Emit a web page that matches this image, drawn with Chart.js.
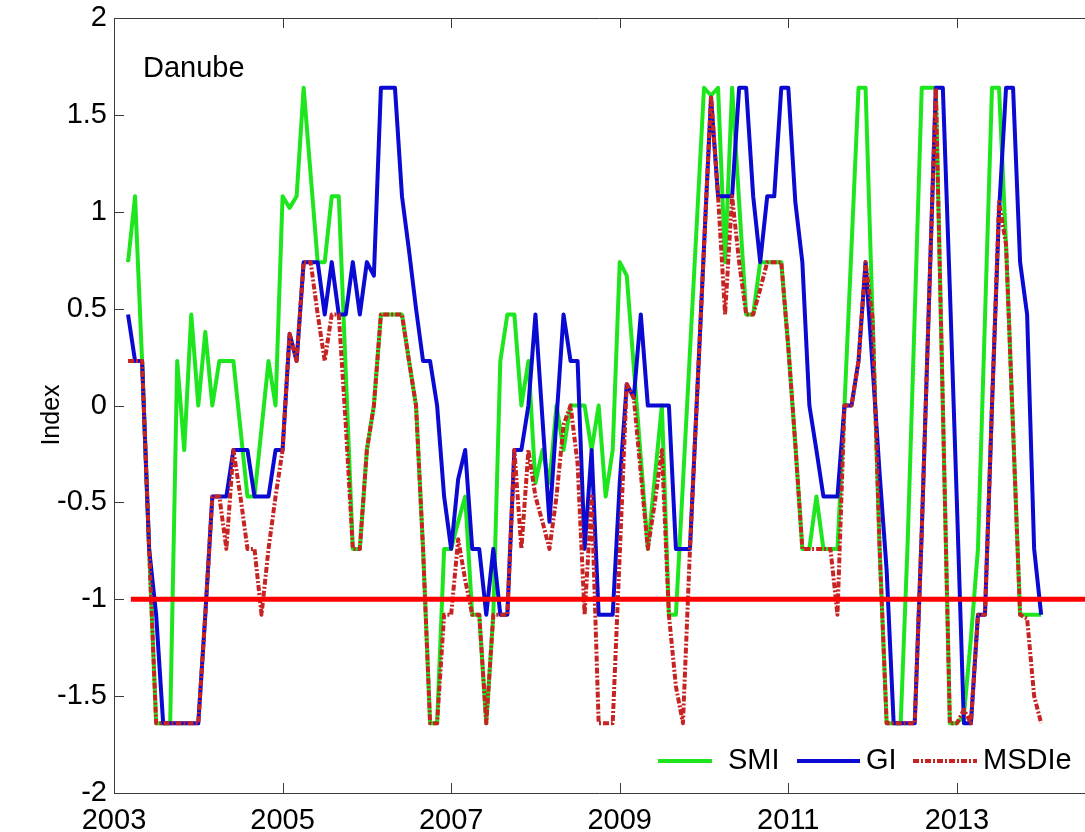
<!DOCTYPE html>
<html>
<head>
<meta charset="utf-8">
<script src="https://cdn.jsdelivr.net/npm/chart.js@4.4.0/dist/chart.umd.min.js"></script>
<style>
  html, body { margin: 0; padding: 0; background: #ffffff; }
  #danube_chart { display: block; }
</style>
</head>
<body>
<canvas id="danube_chart" width="1085" height="832" style="width:1085px;height:832px"></canvas>
<script>
// Monthly drought indices for the Danube, first value = March 2003
const START_YEAR  = 2003;
const FIRST_MONTH = 2;          // months after January 2003

const SMI = [
  0.74, 1.08, 0.23, -0.74, -1.64, -1.64, -1.64, 0.23, -0.23, 0.47,               // 2003
  0, 0.38, 0, 0.23, 0.23, 0.23, -0.12, -0.47, -0.47, -0.12, 0.23, 0,              // 2004
  1.08, 1.02, 1.08, 1.64, 1.19, 0.74, 0.74, 1.08, 1.08, 0.17, -0.74, -0.74,       // 2005
  -0.23, 0, 0.47, 0.47, 0.47, 0.47, 0.23, 0, -0.74, -1.64, -1.64, -0.74,          // 2006
  -0.74, -0.6, -0.47, -1.08, -1.08, -1.64, -1.08, 0.23, 0.47, 0.47, 0, 0.23,      // 2007
  -0.4, -0.23, -0.4, 0, -0.23, 0, 0, 0, -0.23, 0, -0.47, -0.23,                   // 2008
  0.74, 0.67, 0.2, -0.27, -0.74, -0.37, 0, -1.08, -1.08, -0.4, 0.28, 0.96,        // 2009
  1.64, 1.6, 1.64, 0.74, 1.64, 1.05, 0.47, 0.47, 0.74, 0.74, 0.74, 0.74,          // 2010
  0.3, -0.2, -0.74, -0.74, -0.47, -0.74, -0.74, -0.74, 0, 0.82, 1.64, 1.64,       // 2011
  0.45, -0.74, -1.64, -1.64, -1.64, -0.7, 0.47, 1.64, 1.64, 1.64, 0, -1.64,       // 2012
  -1.64, -1.6, -1.2, -0.74, 0.45, 1.64, 1.64, 0.83, -0.12, -1.08, -1.08, -1.08,   // 2013
  -1.08                                                                            // 2014
];

const GI = [
  0.47, 0.23, 0.23, -0.74, -1.08, -1.64, -1.64, -1.64, -1.64, -1.64,
  -1.64, -1.08, -0.47, -0.47, -0.47, -0.23, -0.23, -0.23, -0.47, -0.47, -0.47, -0.23,
  -0.23, 0.37, 0.23, 0.74, 0.74, 0.74, 0.47, 0.74, 0.47, 0.47, 0.74, 0.47,
  0.74, 0.67, 1.64, 1.64, 1.64, 1.08, 0.8, 0.5, 0.23, 0.23, 0, -0.47,
  -0.74, -0.38, -0.23, -0.74, -0.74, -1.08, -0.74, -1.08, -1.08, -0.23, -0.23, 0,
  0.47, -0.07, -0.6, -0.07, 0.47, 0.23, 0.23, -0.74, -0.23, -1.08, -1.08, -1.08,
  -0.4, 0.11, 0.04, 0.47, 0, 0, 0, 0, -0.74, -0.74, -0.74, 0.04,
  0.82, 1.59, 1.08, 1.08, 1.08, 1.64, 1.64, 1.08, 0.74, 1.08, 1.08, 1.64,
  1.64, 1.05, 0.74, 0, -0.23, -0.47, -0.47, -0.47, 0, 0, 0.23, 0.74,
  0.2, -0.35, -0.85, -1.64, -1.64, -1.64, -1.64, -0.65, 0.5, 1.64, 1.64, 0.6,
  -0.5, -1.64, -1.64, -1.08, -1.08, 0, 1.0, 1.64, 1.64, 0.74, 0.47, -0.74,
  -1.08
];

const MSDIE = [
  0.23, 0.23, 0.23, -0.74, -1.64, -1.64, -1.64, -1.64, -1.64, -1.64,
  -1.64, -1.08, -0.47, -0.47, -0.74, -0.23, -0.47, -0.74, -0.74, -1.08, -0.74, -0.47,
  -0.23, 0.37, 0.23, 0.74, 0.74, 0.47, 0.23, 0.47, 0.47, -0.1, -0.74, -0.74,
  -0.23, 0, 0.47, 0.47, 0.47, 0.47, 0.23, 0, -0.74, -1.64, -1.64, -1.08,
  -1.08, -0.69, -0.9, -1.08, -1.08, -1.64, -1.08, -1.08, -1.08, -0.23, -0.74, -0.23,
  -0.47, -0.6, -0.74, -0.47, -0.1, 0, -0.3, -1.08, -0.47, -1.64, -1.64, -1.64,
  -0.77, 0.11, 0.04, -0.35, -0.74, -0.5, -0.23, -1.08, -1.45, -1.64, -0.74, 0.04,
  0.82, 1.6, 1.08, 0.47, 1.08, 0.74, 0.47, 0.47, 0.6, 0.74, 0.74, 0.74,
  0.3, -0.2, -0.74, -0.74, -0.74, -0.74, -0.74, -1.08, 0, 0, 0.23, 0.74,
  0.45, -0.74, -1.64, -1.64, -1.64, -1.64, -1.64, -0.65, 0.5, 1.64, 0, -1.64,
  -1.64, -1.57, -1.64, -1.08, -1.08, 0, 1.05, 0.83, -0.12, -1.08, -1.1, -1.5,
  -1.64
];

const THRESHOLD       = -1;
const THRESHOLD_START = 2003.2;
const X_MIN = 2003;
const X_MAX = 2014.52;
const X_TICKS = [2003, 2005, 2007, 2009, 2011, 2013];
const Y_TICKS = [-2, -1.5, -1, -0.5, 0, 0.5, 1, 1.5, 2];
const Y_TICK_LABELS = ["-2", "-1.5", "-1", "-0.5", "0", "0.5", "1", "1.5", "2"];

const FONT_FAMILY = "'Liberation Sans', Arial, Helvetica, sans-serif";
const AXIS_COLOR  = "#3a3a3a";
const SMI_COLOR   = "#1ee61e";
const GI_COLOR    = "#0a0ad2";
const MSDI_COLOR  = "#c82323";
const LINE_RED    = "#ff0000";
const MSDI_DASH   = [6, 2, 2, 2];

function toPoints(vals) {
  return vals.map((v, i) => ({ x: START_YEAR + (FIRST_MONTH + i) / 12, y: v }));
}

// box on left/top/bottom with inward ticks, panel label, axis title and legend
const framePlugin = {
  id: "frame",
  afterDatasetsDraw(chart) {
    const { ctx, chartArea: a, scales: { x, y } } = chart;
    ctx.save();
    ctx.strokeStyle = AXIS_COLOR;
    ctx.lineWidth = 1;
    ctx.beginPath();
    ctx.moveTo(a.right, a.top + 0.5);
    ctx.lineTo(a.left + 0.5, a.top + 0.5);
    ctx.lineTo(a.left + 0.5, a.bottom + 0.5);
    ctx.lineTo(a.right, a.bottom + 0.5);
    X_TICKS.forEach((t) => {
      const px = Math.round(x.getPixelForValue(t)) + 0.5;
      ctx.moveTo(px, a.top);
      ctx.lineTo(px, a.top + 10);
      ctx.moveTo(px, a.bottom);
      ctx.lineTo(px, a.bottom - 10);
    });
    Y_TICKS.forEach((t) => {
      const py = Math.round(y.getPixelForValue(t)) + 0.5;
      ctx.moveTo(a.left, py);
      ctx.lineTo(a.left + 10, py);
    });
    ctx.stroke();

    ctx.fillStyle = "#000";
    ctx.font = `29px ${FONT_FAMILY}`;
    ctx.textAlign = "left";
    ctx.textBaseline = "middle";
    ctx.fillText("Danube", 143, 69);

    // y axis title
    ctx.save();
    ctx.translate(52, 415);
    ctx.rotate(-Math.PI / 2);
    ctx.textAlign = "center";
    ctx.font = `25px ${FONT_FAMILY}`;
    ctx.fillText("Index", 0, 0);
    ctx.restore();

    // legend
    const ly = 761;
    const items = [
      { label: "SMI",   color: SMI_COLOR,  dash: [],        x0: 658, x1: 712, tx: 728 },
      { label: "GI",    color: GI_COLOR,   dash: [],        x0: 797, x1: 860, tx: 866 },
      { label: "MSDIe", color: MSDI_COLOR, dash: MSDI_DASH, x0: 913, x1: 977, tx: 983 },
    ];
    items.forEach((it) => {
      ctx.strokeStyle = it.color;
      ctx.lineWidth = 4;
      ctx.setLineDash(it.dash);
      ctx.beginPath();
      ctx.moveTo(it.x0, ly);
      ctx.lineTo(it.x1, ly);
      ctx.stroke();
      ctx.setLineDash([]);
      ctx.fillText(it.label, it.tx, ly);
    });
    ctx.restore();
  },
};

const lineDefaults = { pointRadius: 0, tension: 0, borderJoinStyle: "round", fill: false };

new Chart(document.getElementById("danube_chart").getContext("2d"), {
  type: "line",
  data: {
    datasets: [
      { ...lineDefaults, label: "threshold", order: 0,
        data: [{ x: THRESHOLD_START, y: THRESHOLD }, { x: X_MAX, y: THRESHOLD }],
        borderColor: LINE_RED, borderWidth: 5 },
      { ...lineDefaults, label: "MSDIe", order: 1, data: toPoints(MSDIE),
        borderColor: MSDI_COLOR, borderWidth: 4, borderDash: MSDI_DASH },
      { ...lineDefaults, label: "GI", order: 2, data: toPoints(GI),
        borderColor: GI_COLOR, borderWidth: 4 },
      { ...lineDefaults, label: "SMI", order: 3, data: toPoints(SMI),
        borderColor: SMI_COLOR, borderWidth: 4 },
    ],
  },
  options: {
    responsive: false,
    animation: false,
    devicePixelRatio: 1,
    layout: { padding: { top: 18, right: 0, bottom: 0, left: 0 } },
    plugins: { legend: { display: false }, tooltip: { enabled: false } },
    scales: {
      x: {
        type: "linear", min: X_MIN, max: X_MAX,
        afterBuildTicks: (s) => { s.ticks = X_TICKS.map((v) => ({ value: v })); },
        afterFit: (s) => { s.height = 39; s.paddingLeft = 0; s.paddingRight = 0; },
        grid: { display: false, drawTicks: false },
        border: { display: false },
        ticks: { color: "#000", padding: 11, maxRotation: 0, font: { family: FONT_FAMILY, size: 29 },
                 callback: (v) => String(v) },
      },
      y: {
        min: -2, max: 2,
        afterBuildTicks: (s) => { s.ticks = Y_TICKS.map((v) => ({ value: v })); },
        afterFit: (s) => { s.width = 114; s.paddingTop = 0; s.paddingBottom = 0; },
        grid: { display: false, drawTicks: false },
        border: { display: false },
        ticks: { color: "#000", padding: 7, font: { family: FONT_FAMILY, size: 29 },
                 callback: (v) => Y_TICK_LABELS[Y_TICKS.indexOf(v)] },
      },
    },
  },
  plugins: [framePlugin],
});
</script>
</body>
</html>
